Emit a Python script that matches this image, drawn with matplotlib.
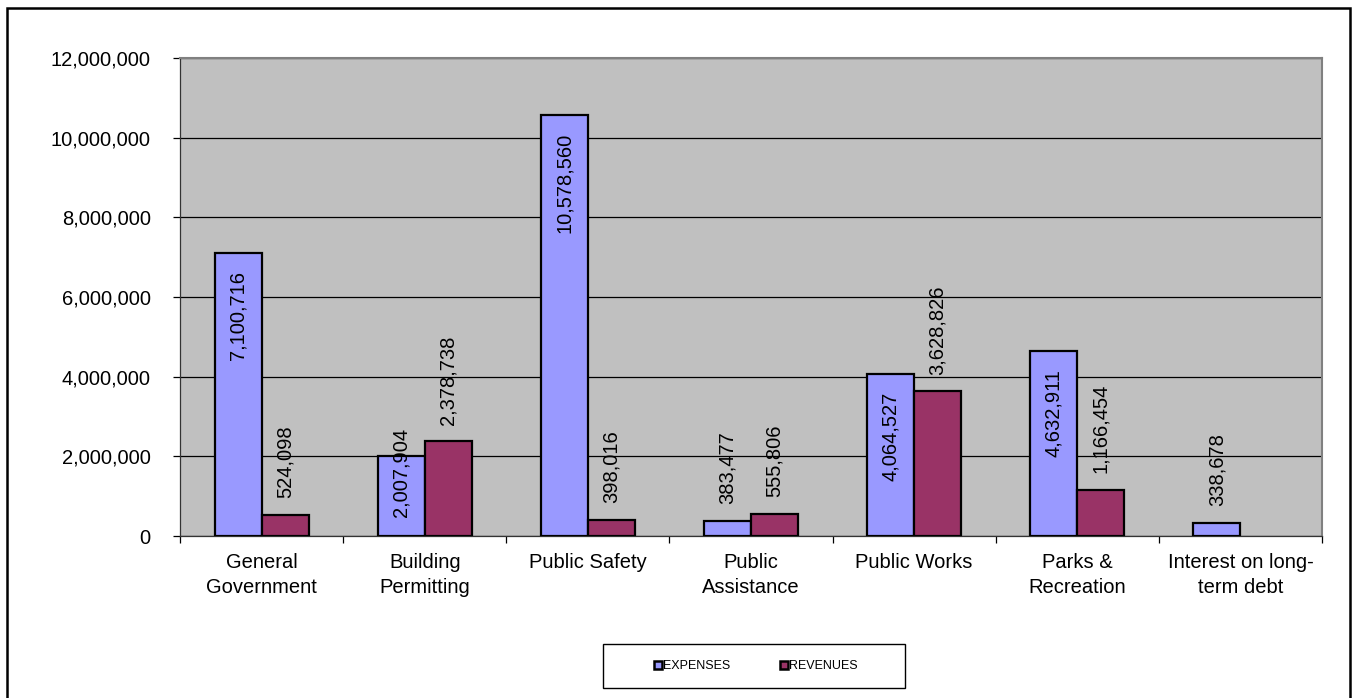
import matplotlib
matplotlib.use("Agg")
import matplotlib.pyplot as plt
from matplotlib.lines import Line2D
from matplotlib.patches import Rectangle
from matplotlib.ticker import FuncFormatter, MultipleLocator
import matplotlib.transforms as mtransforms

plt.rcParams['font.family'] = ['Liberation Sans', 'DejaVu Sans']

# ── DATA ────────────────────────────────────────────────────────────────────
categories = ["General\nGovernment", "Building\nPermitting", "Public Safety",
              "Public\nAssistance", "Public Works", "Parks &\nRecreation",
              "Interest on long-\nterm debt"]
expenses = [7100716, 2007904, 10578560, 383477, 4064527, 4632911, 338678]
revenues = [524098, 2378738, 398016, 555806, 3628826, 1166454, None]

# where each value label sits relative to its bar top
exp_place = ["in", "mid", "in", "out", "in", "in", "out"]
rev_place = ["out", "out", "out", "out", "out", "out", None]

EXP_COLOR = '#9999FF'
REV_COLOR = '#993366'
BAR_W = 0.288

# ── PLOT ────────────────────────────────────────────────────────────────────
W, H = 1352, 698
fig = plt.figure(figsize=(W / 100, H / 100), dpi=100)
ax = fig.add_axes([180 / W, 162 / H, 1142 / W, 478 / H])
ax.set_facecolor('#C0C0C0')

centers = [i + 0.5 for i in range(len(categories))]

ax.bar([c - BAR_W for c in centers], expenses, width=BAR_W, align='edge',
       color=EXP_COLOR, edgecolor='black', linewidth=1.6, zorder=3)
rev_x = [c for c, v in zip(centers, revenues) if v is not None]
rev_v = [v for v in revenues if v is not None]
ax.bar(rev_x, rev_v, width=BAR_W, align='edge',
       color=REV_COLOR, edgecolor='black', linewidth=1.6, zorder=3)


def put_label(x, v, mode):
    if mode == "out":
        dy, va = 12, 'bottom'
    elif mode == "in":
        dy, va = -13, 'top'
    else:
        dy, va = -11.5, 'center'
    off = mtransforms.offset_copy(ax.transData, fig=fig, x=0, y=dy, units='points')
    ax.text(x, v, f"{v:,}", rotation=90, ha='center', va=va, fontsize=14.5,
            transform=off, zorder=4)


for c, v, m in zip(centers, expenses, exp_place):
    put_label(c - BAR_W / 2, v, m)
for c, v, m in zip(centers, revenues, rev_place):
    if v is not None:
        put_label(c + BAR_W / 2, v, m)

ax.set_xlim(0, len(categories))
ax.set_ylim(0, 12000000)
ax.yaxis.set_major_locator(MultipleLocator(2000000))
ax.yaxis.set_major_formatter(FuncFormatter(lambda v, p: f"{int(v):,}"))
ax.grid(axis='y', color='black', linewidth=0.9, zorder=1)
ax.set_axisbelow(True)

ax.set_xticks(centers)
ax.set_xticklabels(categories, fontsize=14.5, linespacing=1.4)
ax.set_xticks(range(len(categories) + 1), minor=True)
ax.tick_params(axis='x', which='major', length=0, pad=12)
ax.tick_params(axis='x', which='minor', length=5, width=0.9, direction='out')
ax.tick_params(axis='y', length=5, width=0.9, pad=16, labelsize=14.5)

for s in ['top', 'right']:
    ax.spines[s].set_color('#808080')
    ax.spines[s].set_linewidth(1.5)
for s in ['left', 'bottom']:
    ax.spines[s].set_color('#333333')
    ax.spines[s].set_linewidth(0.9)

# legend with its own frame
handles = [Line2D([], [], marker='s', linestyle='none', markersize=6,
                  markerfacecolor=EXP_COLOR, markeredgecolor='black',
                  markeredgewidth=1.8, label='EXPENSES'),
           Line2D([], [], marker='s', linestyle='none', markersize=6,
                  markerfacecolor=REV_COLOR, markeredgecolor='black',
                  markeredgewidth=1.8, label='REVENUES')]
fig.legend(handles=handles, loc='center', bbox_to_anchor=(756 / W, 32 / H),
           ncol=2, frameon=False, fontsize=9, handlelength=0.6,
           handletextpad=0.1, columnspacing=4.0)
fig.patches.append(Rectangle((603 / W, 10 / H), 302 / W, 44 / H,
                             transform=fig.transFigure, fill=False,
                             edgecolor='black', linewidth=1.0))

# outer chart border (bottom edge is cut off in the original)
fig.patches.append(Rectangle((7 / W, -10 / H), 1343 / W, (H - 8 + 10) / H,
                             transform=fig.transFigure, fill=False,
                             edgecolor='black', linewidth=1.8))

fig.savefig('out.png', dpi=100)
